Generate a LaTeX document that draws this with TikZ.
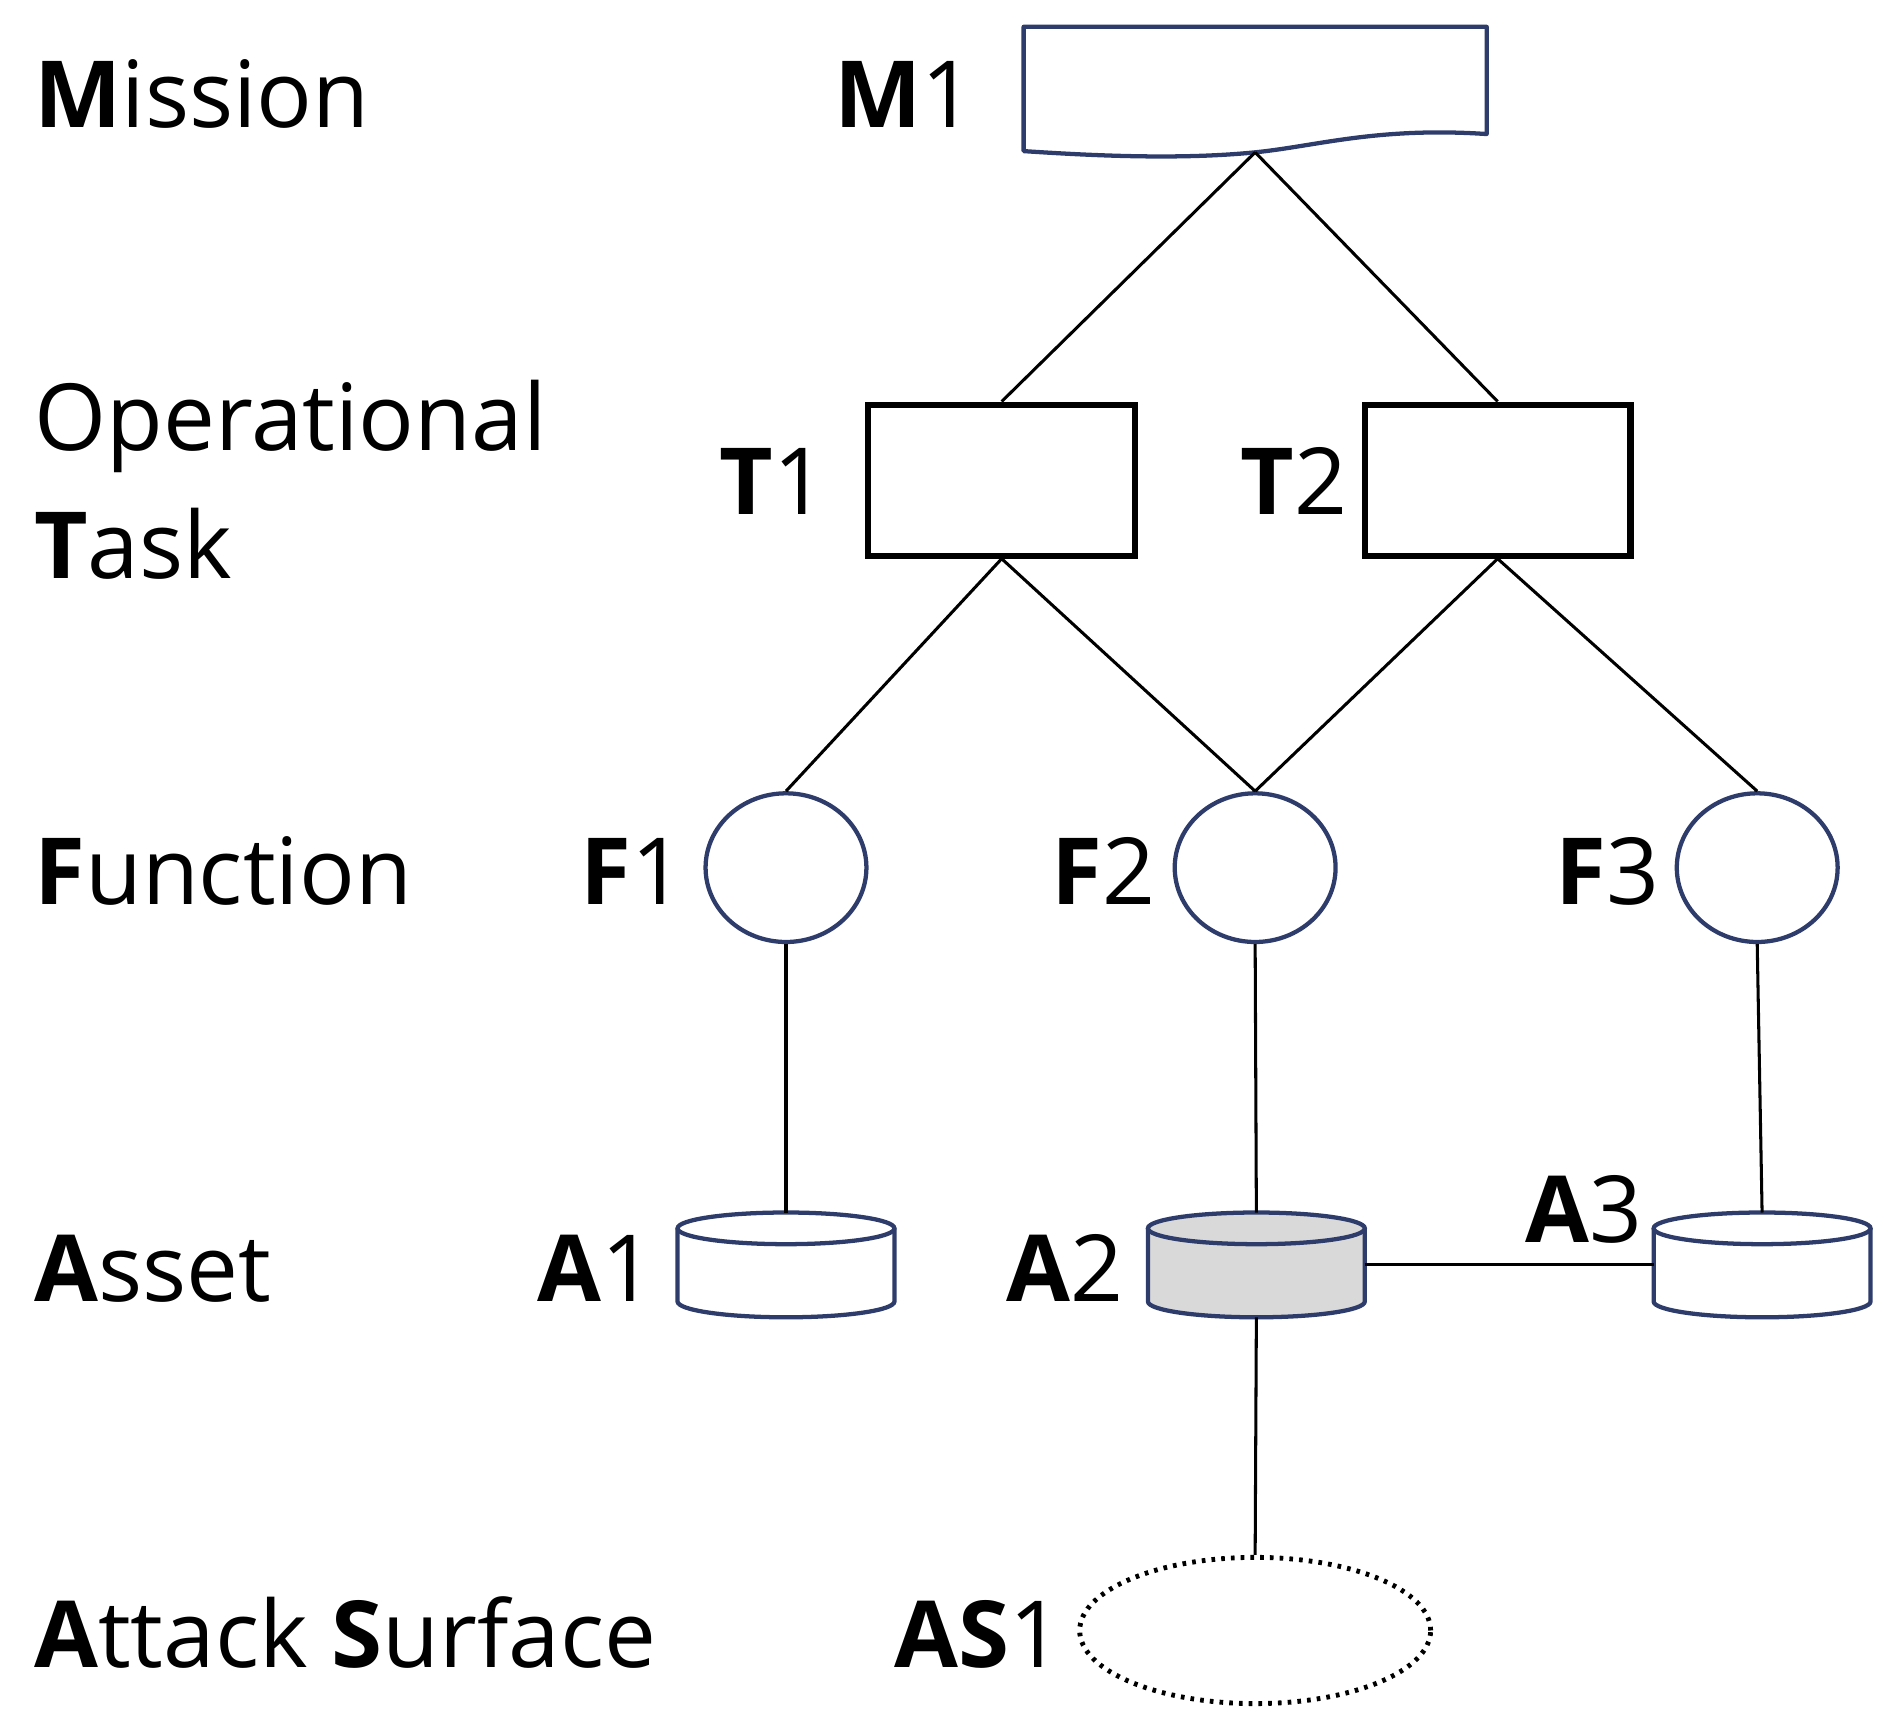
\documentclass[tikz,border=0pt]{standalone}
\usepackage{fontspec}
\setmainfont{Open Sans}
\usetikzlibrary{shapes.geometric}
\begin{document}
\begin{tikzpicture}[x=1pt,y=-1pt,
  nv/.style={draw=navy,line width=3.5pt},
  ln/.style={line width=2.5pt},
  lab/.style={inner sep=0pt,font=\fontsize{76}{80}\selectfont},
]
\definecolor{navy}{HTML}{2E3C6B}
\useasboundingbox (0,0) rectangle (1560,1418);
% labels
\node[lab,anchor=base west] (lm) at (28,105) {\textbf{M}ission};
\node[lab,anchor=base west] (lo) at (28,370) {Operational};
\node[lab,anchor=base west] (lt) at (28,475) {\textbf{T}ask};
\node[lab,anchor=base west] (lf) at (28,742) {\textbf{F}unction};
\node[lab,anchor=base west] (la) at (28,1068) {\textbf{A}sset};
\node[lab,anchor=base west] (ls) at (28,1368) {\textbf{A}ttack \textbf{S}urface};
\node[lab,anchor=base east] (lm1) at (800,105) {\textbf{M}1};
\node[lab,anchor=base east] (lt1) at (678,422) {\textbf{T}1};
\node[lab,anchor=base east] (lt2) at (1106,422) {\textbf{T}2};
\node[lab,anchor=base east] (lf1) at (562,742) {\textbf{F}1};
\node[lab,anchor=base east] (lf2) at (948,742) {\textbf{F}2};
\node[lab,anchor=base east] (lf3) at (1362,742) {\textbf{F}3};
\node[lab,anchor=base east] (la1) at (537,1068) {\textbf{A}1};
\node[lab,anchor=base east] (la2) at (922,1068) {\textbf{A}2};
\node[lab,anchor=base east] (la3) at (1348,1020) {\textbf{A}3};
\node[lab,anchor=base east] (las) at (872,1368) {\textbf{AS}1};
% M1
\draw[nv,line join=round] (840,22) -- (1220,22) -- (1220,110) .. controls (1130,104) and (1080,120) .. (1030,125) .. controls (970,131) and (900,128) .. (840,124) -- cycle;
\coordinate (m1) at (1030,125);
% tasks
\node[draw,line width=5pt,minimum width=219pt,minimum height=124pt,inner sep=0pt] (t1) at (822,394) {};
\node[draw,line width=5pt,minimum width=218pt,minimum height=124pt,inner sep=0pt] (t2) at (1229,394) {};
% functions
\foreach \n/\x in {f1/645,f2/1030,f3/1442}
  \node[nv,ellipse,minimum width=132pt,minimum height=122pt,inner sep=0pt] (\n) at (\x,712) {};
% cylinders
\foreach \n/\x/\f in {a1/645/white,a2/1031/gray!30,a3/1446/white}{
  \begin{scope}[shift={(\x,0)}]
  \fill[\f] (-89,1008) -- (-89,1068) arc[start angle=180,end angle=0,x radius=89,y radius=13] -- (89,1008) arc[start angle=0,end angle=-180,x radius=89,y radius=13];
  \draw[nv] (-89,1008) -- (-89,1068) arc[start angle=180,end angle=0,x radius=89,y radius=13] -- (89,1008);
  \draw[nv] (0,1008) ellipse[x radius=89,y radius=13];
  \end{scope}
  \coordinate (\n t) at (\x,995);
  \coordinate (\n b) at (\x,1081);
  \coordinate (\n l) at (\x-89,1038);
  \coordinate (\n r) at (\x+89,1038);
}
% attack surface
\node[draw,line width=4pt,dash pattern=on 3pt off 5pt,ellipse,minimum width=288pt,minimum height=120pt,inner sep=0pt] (as1) at (1030,1338) {};
% connectors
\draw[ln] (m1) -- (t1.north);
\draw[ln] (m1) -- (t2.north);
\draw[ln] (t1.south) -- (f1.north);
\draw[ln] (t1.south) -- (f2.north);
\draw[ln] (t2.south) -- (f2.north);
\draw[ln] (t2.south) -- (f3.north);
\draw[ln] (f1.south) -- (a1t);
\draw[ln] (f2.south) -- (a2t);
\draw[ln] (f3.south) -- (a3t);
\draw[ln] (a2r) -- (a3l);
\draw[ln] (a2b) -- (as1.north);
\end{tikzpicture}
\end{document}
